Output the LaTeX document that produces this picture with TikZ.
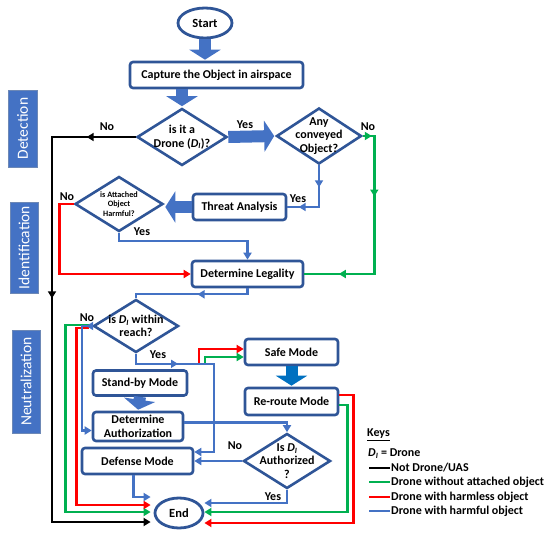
\documentclass[tikz,border=0pt]{standalone}
\usepackage{fontspec}
\setmainfont{Carlito}
\usetikzlibrary{arrows.meta,positioning,shapes.geometric,decorations.markings,calc}
\definecolor{fcborder}{RGB}{47,85,151}
\definecolor{fcblue}{RGB}{68,114,196}
\definecolor{fcbright}{RGB}{0,112,192}
\definecolor{fcred}{RGB}{255,0,0}
\definecolor{fcgreen}{RGB}{0,176,80}
\newcommand{\Di}{\textit{D}\textsubscript{\textit{I}}}
\tikzset{
  boxfont/.style={font=\fontsize{12}{13.5}\selectfont\bfseries},
  procbox/.style={draw=fcborder, line width=2.6pt, rounded corners=3pt, fill=white, align=center, inner sep=1pt, boxfont},
  decision/.style={diamond, aspect=1.55, draw=fcborder, line width=2.6pt, fill=white, align=center, inner sep=-7pt, boxfont},
  terminal/.style={ellipse, draw=fcborder, line width=2.8pt, fill=white, inner sep=1pt, font=\fontsize{12.5}{14}\selectfont\bfseries},
  phase/.style={rotate=90, fill=fcblue, draw=fcborder!70, line width=0.6pt, text=white, font=\fontsize{15.5}{17}\selectfont},
  blockarrow/.style={draw=fcblue, line width=12pt, -{Triangle[length=10pt,width=31pt]}, shorten >=1pt},
  flowtip/.style={-{Triangle[length=7pt,width=8pt]}},
  flowblue/.style={draw=fcblue, line width=2.2pt},
  flowred/.style={draw=fcred, line width=2.6pt},
  flowgreen/.style={draw=fcgreen, line width=2.6pt},
  flowblack/.style={draw=black, line width=2.6pt},
  arrowat/.style={postaction={decorate, decoration={markings, mark=at position #1 with {\arrow{Triangle[length=7pt,width=8pt]}}}}},
  lbl/.style={font=\fontsize{12}{13}\selectfont\bfseries, inner sep=1pt},
  keytext/.style={font=\fontsize{12}{13}\selectfont\bfseries, inner sep=1pt, anchor=west},
  keyline/.style={line width=2.8pt}
}
\begin{document}
\begin{tikzpicture}[x=1pt,y=-1pt]
  \useasboundingbox (0,0) rectangle (550,533);

  %% --- PHASES ---
  \node[phase, minimum width=77pt, minimum height=29pt]  (detect)  at (22.5,128.5) {Detection};
  \node[phase, minimum width=91pt, minimum height=28pt]  (ident)   at (24,247.5)   {Identification};
  \node[phase, minimum width=103pt, minimum height=28pt] (neutral) at (26,381.5)   {Neutralization};

  %% --- NODES ---
  \node[terminal, minimum width=54pt, minimum height=30pt] (start)    at (205,23)     {Start};
  \node[procbox, minimum width=173pt, minimum height=26pt] (capture)  at (216.5,75)   {Capture the Object in airspace};
  \node[decision, minimum width=90pt, minimum height=57pt] (isdrone)  at (182,137)    {is it a\\Drone (\Di)?};
  \node[decision, minimum width=85pt, minimum height=56pt] (conveyed) at (319,136)    {Any\\conveyed\\Object?};
  \node[procbox, minimum width=93pt, minimum height=26pt]  (threat)   at (239.5,207)  {Threat Analysis};
  \node[decision, minimum width=88pt, minimum height=55pt, inner sep=0pt, font=\fontsize{8.2}{9.5}\selectfont\bfseries] (harmful) at (119,204) {is Attached\\Object\\Harmful?};
  \node[procbox, minimum width=111pt, minimum height=26pt] (legality) at (247.5,274)  {Determine Legality};
  \node[decision, minimum width=85pt, minimum height=53pt] (reach)    at (136,326)    {is \Di\ within\\reach?};
  \node[procbox, minimum width=94pt, minimum height=25pt]  (standby)  at (140,383)    {Stand-by Mode};
  \node[procbox, minimum width=90pt, minimum height=29pt]  (authz)    at (138,426.5)  {Determine\\Authorization};
  \node[procbox, minimum width=111pt, minimum height=26pt] (defense)  at (137.5,461)  {Defense Mode};
  \node[procbox, minimum width=93pt, minimum height=26pt]  (safe)     at (291.5,352)  {Safe Mode};
  \node[procbox, minimum width=93pt, minimum height=27pt]  (reroute)  at (291.5,401.5) {Re-route Mode};
  \node[decision, minimum width=87pt, minimum height=55pt] (isauth)   at (287,461)    {Is \Di\\Authorized\\?};
  \node[terminal, minimum width=48pt, minimum height=30pt] (endn)     at (179,513)    {End};

  %% --- END ENTRIES ---
  \coordinate (eblueL) at ($(endn.west)+(-3,-16)$);
  \coordinate (eredL)  at ($(endn.west)+(-3,-8)$);
  \coordinate (egrL)   at ($(endn.west)+(-3,-1)$);
  \coordinate (eblk)   at ($(endn.west)+(-3,9)$);
  \coordinate (eblueR) at ($(endn.east)+(0,-10)$);
  \coordinate (egrR)   at ($(endn.east)+(0,-1)$);
  \coordinate (eredR)  at ($(endn.east)+(0,10)$);

  %% --- BLOCK ARROWS ---
  \draw[blockarrow] (start.south) -- (start.south |- capture.north);
  \draw[blockarrow] (capture.south -| isdrone.north) -- (isdrone.north);
  \draw[blockarrow] (isdrone.east) -- (conveyed.west);
  \draw[blockarrow] (threat.west) -- (threat.west -| harmful.east);
  \draw[blockarrow] (standby.south) -- (authz.north);
  \draw[blockarrow, draw=fcbright] (safe.south) -- (reroute.north);

  %% --- DETECTION / IDENTIFICATION FLOWS ---
  \draw[flowblack, flowtip, arrowat=49pt, arrowat=245pt] (isdrone.west) -| (52,522) -- (eblk);
  \draw[flowgreen, arrowat=9pt, arrowat=72pt, arrowat=185pt] (conveyed.east) -| ($(legality.east)+(70,0)$) -- (legality.east);
  \draw[flowblue, arrowat=22pt, arrowat=62pt] (conveyed.south) |- (threat.east);
  \draw[flowblue, flowtip] (harmful.south) -- ++(0,8) -| (legality.north);
  \draw[flowred, flowtip] (harmful.west) -- ++(-14,0) |- (legality.west);
  \draw[flowblue, arrowat=56pt] (legality.south) -- ++(0,6) -| (reach.north);

  %% --- NEUTRALIZATION FLOWS ---
  \draw[flowgreen, flowtip] ($(reach.west)+(-3,-1)$) -- ++(-24,0) |- (egrL);
  \draw[flowred, flowtip] ($(reach.west)+(-3,2)$) -- ++(-13,0) |- (eredL);
  \draw[flowblue, flowtip, arrowat=6pt] (reach.west) -- ++(-10,0) |- ($(authz.west)+(0,4)$);
  \draw[flowred, flowtip] ($(reach.south)+(63,10)$) |- ($(safe.west)+(0,-3)$);
  \draw[flowgreen, flowtip] ($(reach.south)+(69,10)$) |- ($(safe.west)+(0,5)$);
  \draw[flowblue, flowtip, arrowat=52pt] (reach.south) -- ++(0,10) -| ($(defense.east)+(20,-9)$) -- ($(defense.east)+(0,-9)$);
  \draw[flowred, flowtip] ($(reroute.east)+(0,-6.5)$) -- ++(14,0) |- (eredR);
  \draw[flowgreen, flowtip] ($(reroute.east)+(0,3.5)$) -- ++(8,0) |- (egrR);
  \draw[flowblue, flowtip] ($(authz.east)+(0,-4)$) -| (isauth.north);
  \draw[flowblue, flowtip] (isauth.west) -- (isauth.west -| defense.east);
  \draw[flowblue, flowtip] (isauth.south) |- (eblueR);
  \draw[flowblue, flowtip] ($(defense.south)+(-4,0)$) |- (eblueL);

  %% --- BRANCH LABELS ---
  \node[lbl] (nodrone)   at (107,127) {No};
  \node[lbl] (yesdrone)  at (245,125) {Yes};
  \node[lbl] (noconv)    at (368,127) {No};
  \node[lbl] (yesconv)   at (298,199) {Yes};
  \node[lbl] (noharm)    at (67,197)  {No};
  \node[lbl] (yesharm)   at (142,232) {Yes};
  \node[lbl] (noreach)   at (87,318)  {No};
  \node[lbl] (yesreach)  at (158,355) {Yes};
  \node[lbl] (noauth)    at (235,446) {No};
  \node[lbl] (yesauth)   at (273,497) {Yes};

  %% --- KEYS ---
  \node[keytext] (keys)     at (366,435) {\underline{Keys}};
  \node[keytext] (keydi)    at (367,454) {\Di\ = Drone};
  \node[keytext] (keyblack) at (390,468) {Not Drone/UAS};
  \node[keytext] (keygreen) at (390,482) {Drone without attached object};
  \node[keytext] (keyred)   at (390,497) {Drone with harmless object};
  \node[keytext] (keyblue)  at (390,511) {Drone with harmful object};
  \draw[keyline, black]   ($(keyblack.west)+(-21,0)$) -- (keyblack.west);
  \draw[keyline, fcgreen] ($(keygreen.west)+(-21,0)$) -- (keygreen.west);
  \draw[keyline, fcred]   ($(keyred.west)+(-21,0)$)   -- (keyred.west);
  \draw[keyline, fcblue]  ($(keyblue.west)+(-21,0)$)  -- (keyblue.west);
\end{tikzpicture}
\end{document}
